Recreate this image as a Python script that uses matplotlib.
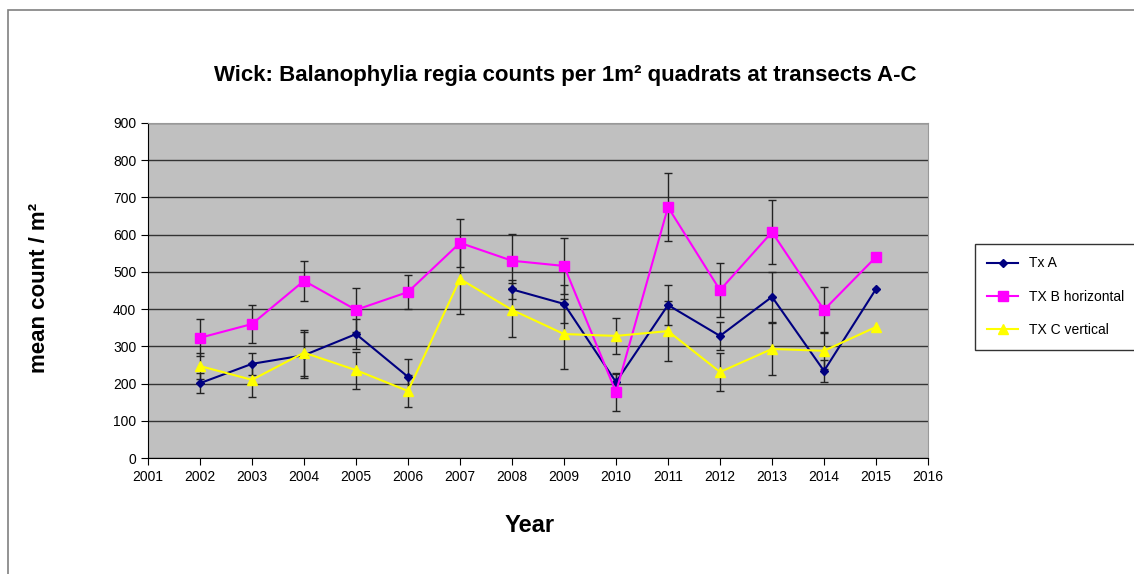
import matplotlib.pyplot as plt
import matplotlib.patches as patches
import numpy as np

# Dados
anos = [2002, 2003, 2004, 2005, 2006, 2007, 2008, 2009, 2010, 2011, 2012, 2013, 2014, 2015]

tx_a = [201, 253, 276, 333, 218, np.nan, 453, 414, 204, 411, 328, 433, 234, 454]
tx_a_err = [27, 30, 62, 40, 48, np.nan, 25, 50, 25, 55, 37, 67, 30, np.nan]

tx_b = [323, 360, 476, 398, 446, 578, 530, 516, 177, 674, 451, 607, 398, 540]
tx_b_err = [50, 51, 53, 60, 45, 65, 72, 75, 50, 92, 73, 87, 62, np.nan]

tx_c = [247, 210, 283, 236, 180, 481, 398, 333, 328, 341, 231, 293, 288, 352]
tx_c_err = [35, 46, 62, 50, 43, 95, 73, 95, 48, 80, 50, 70, 50, np.nan]

fonte = 'Liberation Sans'

fig = plt.figure(figsize=(11.34, 5.74), dpi=100)
fig.patch.set_facecolor('white')

# Moldura externa do grafico
fig.patches.append(patches.Rectangle((8 / 1134, -0.05), 1.2, 1 - 10 / 574 + 0.05,
                                     transform=fig.transFigure, fill=False,
                                     edgecolor='#808080', linewidth=1.2))

ax = fig.add_axes([148 / 1134, 1 - 458 / 574, 780 / 1134, 335 / 574])
ax.set_facecolor('#C0C0C0')

ax.set_xlim(2001, 2016)
ax.set_ylim(0, 900)
ax.set_xticks(range(2001, 2017))
ax.set_yticks(range(0, 901, 100))
ax.grid(axis='y', color='#333333', linewidth=1)
ax.set_axisbelow(True)

# Barras de erro
for vals, errs in [(tx_a, tx_a_err), (tx_b, tx_b_err), (tx_c, tx_c_err)]:
    ax.errorbar(anos, vals, yerr=errs, fmt='none', ecolor='#222222',
                elinewidth=1, capsize=3, capthick=1, zorder=2)

# Series
ax.plot(anos, tx_a, color='#000080', marker='D', markersize=4, linewidth=1.5,
        label='Tx A', zorder=3)
ax.plot(anos, tx_b, color='#FF00FF', marker='s', markersize=7, linewidth=1.5,
        label='TX B horizontal', zorder=3)
ax.plot(anos, tx_c, color='#FFFF00', marker='^', markersize=7, linewidth=1.5,
        label='TX C vertical', zorder=3)

for s in ['left', 'bottom']:
    ax.spines[s].set_color('black')
for s in ['top', 'right']:
    ax.spines[s].set_color('#999999')
ax.tick_params(axis='both', direction='out', length=5, labelsize=10, colors='black')
for lab in ax.get_xticklabels() + ax.get_yticklabels():
    lab.set_family(fonte)

# Titulo e rotulos
fig.text(565 / 1134, 1 - 75 / 574,
         'Wick: Balanophylia regia counts per 1m² quadrats at transects A-C',
         fontsize=16, fontweight='bold', family=fonte, ha='center', va='center')
fig.text(530 / 1134, 1 - 525 / 574, 'Year', fontsize=17, fontweight='bold',
         family=fonte, ha='center', va='center')
fig.text(40 / 1134, 1 - 288 / 574, 'mean count / m²', fontsize=16, fontweight='bold',
         family=fonte, ha='center', va='center', rotation=90)

leg = fig.legend(loc='upper left', bbox_to_anchor=(968 / 1134, 1 - 237 / 574),
                 frameon=True, fancybox=False, edgecolor='black',
                 labelspacing=1.4, handlelength=2.2, borderpad=0.9,
                 prop={'family': fonte, 'size': 10})
leg.get_frame().set_linewidth(1)

plt.savefig('out.png', dpi=100)
